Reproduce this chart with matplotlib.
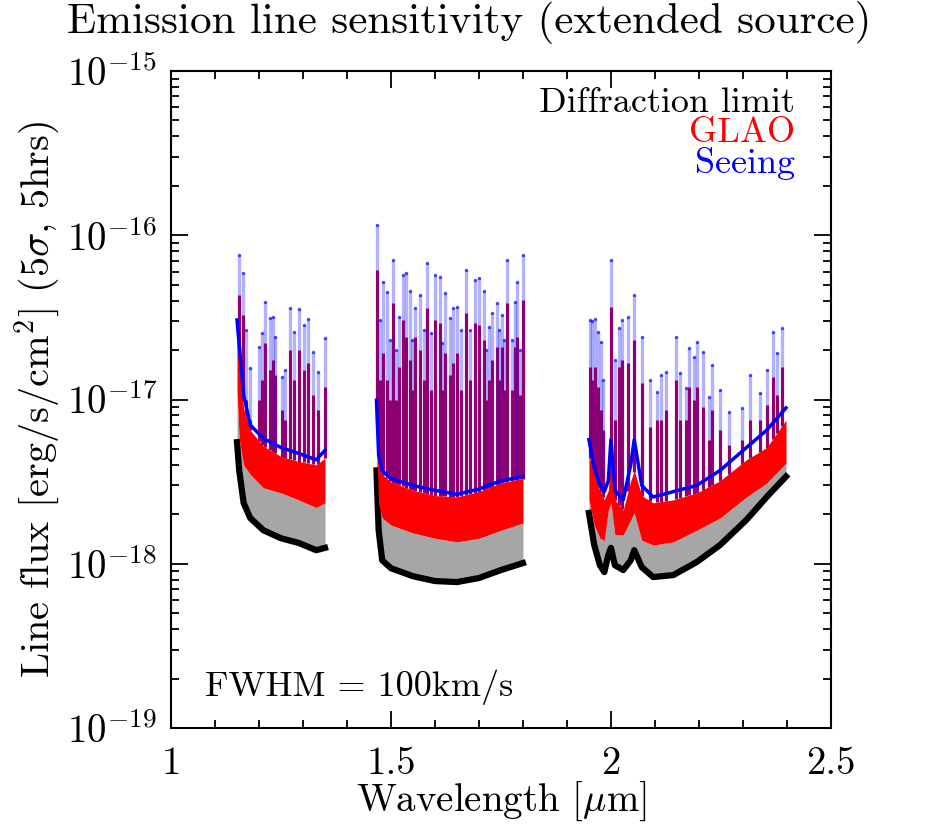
import numpy as np
import matplotlib
matplotlib.use("Agg")
import matplotlib.pyplot as plt
from matplotlib.ticker import FixedLocator, MultipleLocator, NullFormatter, LogLocator

plt.rcParams["font.family"] = ["cmr10", "DejaVu Serif"]
plt.rcParams["mathtext.fontset"] = "cm"
plt.rcParams["axes.formatter.use_mathtext"] = True
plt.rcParams["axes.unicode_minus"] = False

# --- data (flux in units of 1e-18 erg/s/cm^2) ---
UNIT = 1e-18

# J band envelopes
wl_J = [1.150, 1.155, 1.165, 1.18, 1.21, 1.25, 1.29, 1.33, 1.35]
diff_floor_J = [5.5, 3.7, 2.35, 1.9, 1.6, 1.43, 1.34, 1.21, 1.25]
glao_low_J = [11.4, 5.7, 4.0, 3.5, 2.9, 2.7, 2.45, 2.2, 2.35]
glao_top_J = [24.0, 18.0, 8.8, 6.5, 5.2, 4.5, 4.2, 4.0, 4.4]
see_floor_J = [30.5, 21.5, 10.7, 7.0, 5.8, 5.1, 4.7, 4.3, 4.9]

# H band envelopes
wl_H = [1.467, 1.472, 1.48, 1.50, 1.55, 1.60, 1.65, 1.70, 1.75, 1.80]
diff_floor_H = [3.7, 1.6, 1.05, 0.94, 0.84, 0.785, 0.774, 0.819, 0.916, 1.01]
glao_low_H = [5.7, 2.3, 1.9, 1.72, 1.54, 1.43, 1.36, 1.43, 1.6, 1.77]
glao_top_H = [8.1, 4.0, 3.5, 3.15, 2.8, 2.6, 2.55, 2.75, 3.1, 3.3]
see_floor_H = [9.9, 4.6, 3.7, 3.3, 3.0, 2.8, 2.65, 2.85, 3.2, 3.4]

# K band envelopes
wl_K = [1.950, 1.962, 1.975, 1.985, 1.994, 2.000, 2.009, 2.028, 2.045,
        2.053, 2.070, 2.096, 2.142, 2.195, 2.248, 2.308, 2.354, 2.398]
diff_floor_K = [2.04, 1.30, 0.98, 0.89, 1.13, 1.25, 0.98, 0.916, 1.05,
                1.21, 0.955, 0.83, 0.854, 1.025, 1.30, 1.85, 2.55, 3.4]
glao_low_K = [2.45, 1.72, 1.43, 1.39, 2.12, 2.35, 1.50, 1.50, 1.85,
              2.04, 1.39, 1.30, 1.36, 1.6, 1.9, 2.55, 3.1, 4.1]
glao_top_K = [4.6, 3.5, 2.8, 2.45, 2.8, 4.6, 2.45, 2.12, 3.2,
              3.7, 2.6, 2.35, 2.45, 2.7, 3.2, 4.3, 5.1, 7.5]
see_floor_K = [5.7, 3.85, 3.0, 2.75, 3.2, 5.7, 2.8, 2.45, 4.0,
               5.7, 3.0, 2.55, 2.75, 3.0, 3.7, 5.1, 6.5, 8.9]

# sky-line residual spikes: wavelength, GLAO peak, seeing peak
spike_wl_J = [1.155, 1.163, 1.170, 1.180, 1.200, 1.207, 1.214, 1.225, 1.231, 1.236,
              1.252, 1.260, 1.270, 1.280, 1.291, 1.302, 1.311, 1.323, 1.334, 1.350]
spike_glao_J = [43.3, 32.7, 9.9, 7.5, 9.9, 13.1, 22.1, 15.1, 17.4, 14.1,
                8.6, 7.5, 20.0, 13.1, 20.0, 15.1, 16.7, 10.7, 8.6, 11.9]
spike_see_J = [75.8, 58.9, 26.5, 15.6, 20.9, 25.4, 39.2, 31.4, 31.8, 24.0,
               13.7, 15.1, 36.1, 25.8, 35.6, 28.4, 30.9, 19.5, 14.7, 23.7]

spike_wl_H = [1.468, 1.475, 1.481, 1.490, 1.497, 1.505, 1.512, 1.518, 1.527, 1.534,
              1.543, 1.548, 1.555, 1.566, 1.575, 1.583, 1.592, 1.601, 1.611, 1.616,
              1.623, 1.634, 1.641, 1.650, 1.660, 1.670, 1.680, 1.691, 1.700, 1.711,
              1.716, 1.722, 1.729, 1.740, 1.746, 1.752, 1.757, 1.764, 1.774, 1.782,
              1.787, 1.793, 1.799]
spike_glao_H = [61.4, 13.1, 19.2, 13.1, 9.9, 38.7, 9.9, 15.8, 30.5, 24.0,
                17.4, 11.4, 24.0, 20.0, 13.1, 36.1, 11.4, 30.5, 29.2, 11.4,
                19.2, 14.1, 16.7, 19.2, 11.4, 33.6, 13.1, 29.2, 28.4, 23.0,
                9.9, 13.1, 17.4, 20.9, 13.1, 20.9, 11.4, 38.7, 11.4, 20.9,
                24.0, 10.7, 40.3]
spike_see_H = [115.5, 30.5, 51.9, 45.1, 23.0, 70.7, 20.0, 31.8, 57.3, 58.9,
               45.8, 23.0, 36.1, 43.3, 26.5, 67.8, 25.4, 57.3, 55.7, 22.1,
               44.5, 31.4, 36.1, 36.6, 26.5, 61.4, 26.5, 53.4, 54.9, 45.8,
               20.0, 27.6, 33.6, 38.7, 26.5, 32.7, 23.0, 70.7, 23.0, 39.2,
               51.9, 20.0, 75.8]

spike_wl_K = [1.952, 1.958, 1.964, 1.970, 1.977, 1.982, 2.000, 2.009, 2.018, 2.025,
              2.039, 2.052, 2.070, 2.089, 2.104, 2.114, 2.125, 2.148, 2.157, 2.170,
              2.177, 2.189, 2.195, 2.209, 2.222, 2.229, 2.248, 2.268, 2.297, 2.316,
              2.339, 2.354, 2.368, 2.377, 2.388]
spike_glao_K = [15.8, 13.1, 15.8, 11.9, 8.6, 6.5, 36.6, 7.5, 15.8, 17.4,
                16.7, 23.0, 12.6, 6.8, 7.5, 7.5, 8.6, 13.1, 7.5, 7.5,
                11.9, 9.9, 11.9, 9.0, 5.7, 8.6, 6.5, 5.3, 5.7, 7.5,
                7.5, 9.3, 13.7, 10.7, 15.8]
spike_see_K = [30.5, 30.0, 30.9, 25.8, 22.4, 13.1, 70.7, 17.4, 27.2, 30.5,
               31.8, 43.3, 24.0, 13.1, 11.1, 14.1, 14.7, 24.0, 14.5, 11.7,
               20.6, 18.1, 22.4, 19.5, 10.4, 16.2, 11.4, 8.4, 8.9, 14.1,
               11.0, 15.1, 25.8, 19.2, 27.2]

bands = [
    (wl_J, diff_floor_J, glao_low_J, glao_top_J, see_floor_J, spike_wl_J, spike_glao_J, spike_see_J),
    (wl_H, diff_floor_H, glao_low_H, glao_top_H, see_floor_H, spike_wl_H, spike_glao_H, spike_see_H),
    (wl_K, diff_floor_K, glao_low_K, glao_top_K, see_floor_K, spike_wl_K, spike_glao_K, spike_see_K),
]

fig = plt.figure(figsize=(9.32, 8.26), dpi=100)
ax = fig.add_axes([0.1835, 0.1186, 0.708, 0.7954])

for wl, dfl, glo, gtop, sfl, swl, sg, ss in bands:
    wl = np.array(wl)
    dfl, glo, gtop, sfl = [np.array(a) * UNIT for a in (dfl, glo, gtop, sfl)]
    swl = np.array(swl)
    sg = np.array(sg) * UNIT
    ss = np.array(ss) * UNIT
    # spike foot sits on the GLAO continuum
    base = 10 ** np.interp(swl, wl, np.log10(gtop))

    ax.vlines(swl, base, sg, color="#d00030", lw=2.2, zorder=1)
    ax.vlines(swl, base, ss, color="blue", alpha=0.3, lw=2.4, zorder=2)
    ax.scatter(swl, ss, s=6, color="blue", alpha=0.7, lw=0, zorder=2)

    # diffraction limit: grey band above black floor
    ax.fill_between(wl, dfl, glo, color="0.65", lw=0, zorder=3)
    ax.plot(wl, dfl, color="black", lw=4.5, zorder=4)
    # GLAO dense continuum
    ax.fill_between(wl, glo, gtop, color="red", lw=0, zorder=4)
    # seeing continuum floor
    ax.plot(wl, sfl, color="blue", lw=2.5, zorder=5)

ax.set_yscale("log")
ax.set_xlim(1, 2.5)
ax.set_ylim(1e-19, 1e-15)

ax.xaxis.set_major_locator(FixedLocator([1, 1.5, 2, 2.5]))
ax.set_xticklabels(["1", "1.5", "2", "2.5"])
ax.xaxis.set_minor_locator(MultipleLocator(0.1))
ax.yaxis.set_major_locator(FixedLocator([1e-19, 1e-18, 1e-17, 1e-16, 1e-15]))
ax.set_yticklabels([r"$10^{-19}$", r"$10^{-18}$", r"$10^{-17}$", r"$10^{-16}$", r"$10^{-15}$"])
ax.yaxis.set_minor_locator(LogLocator(base=10, subs=np.arange(2, 10)))
ax.yaxis.set_minor_formatter(NullFormatter())

ax.tick_params(which="both", direction="in", top=True, right=True, width=1.3)
ax.tick_params(which="major", length=12, labelsize=28)
ax.tick_params(which="minor", length=6)
ax.tick_params(axis="x", which="major", pad=13)
ax.tick_params(axis="y", which="major", pad=10)
for s in ax.spines.values():
    s.set_linewidth(1.5)

ax.set_xlabel(r"Wavelength [$\mu$m]", fontsize=28)
ax.xaxis.set_label_coords(0.5, -0.078)
ax.set_ylabel(r"Line flux [erg/s/cm$^2$] (5$\sigma$, 5hrs)", fontsize=29)
ax.yaxis.set_label_coords(-0.165, 0.5)
fig.text(0.503, 0.973, "Emission line sensitivity (extended source)", fontsize=31,
         ha="center", va="center")

ax.text(0.945, 0.951, "Diffraction limit", transform=ax.transAxes, fontsize=26,
        ha="right", va="center", color="black")
ax.text(0.945, 0.906, "GLAO", transform=ax.transAxes, fontsize=26,
        ha="right", va="center", color="red")
ax.text(0.945, 0.860, "Seeing", transform=ax.transAxes, fontsize=26,
        ha="right", va="center", color="blue")
ax.text(0.052, 0.0624, "FWHM = 100km/s", transform=ax.transAxes, fontsize=26,
        ha="left", va="center")

fig.savefig("out.png", dpi=100)
